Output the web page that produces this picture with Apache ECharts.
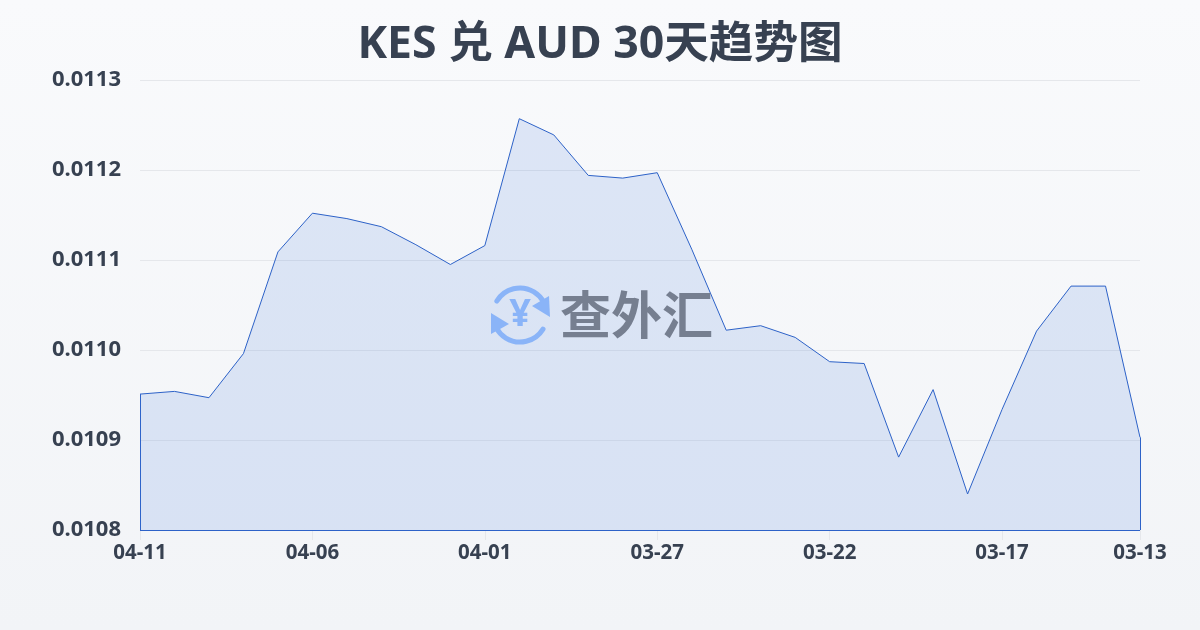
<!DOCTYPE html>
<html><head><meta charset="utf-8">
<style>html,body{margin:0;padding:0;background:#f6f8fa}#c{width:1200px;height:630px}</style>
<script src="https://cdn.jsdelivr.net/npm/echarts@6/dist/echarts.min.js"></script></head>
<body><div id="c"></div>
<script>
const titleText = 'KES 兑 AUD 30天趋势图';
const watermarkText = '查外汇';
const dates = ['04-11','04-10','04-09','04-08','04-07','04-06','04-05','04-04','04-03','04-02','04-01','03-31','03-30','03-29','03-28','03-27','03-26','03-25','03-24','03-23','03-22','03-21','03-20','03-19','03-18','03-17','03-16','03-15','03-14','03-13'];
const rates = [0.010951,0.010954,0.010947,0.010996,0.011109,0.011152,0.011146,0.011137,0.011117,0.011095,0.011116,0.011257,0.011239,0.011194,0.011191,0.011197,0.011112,0.011022,0.011027,0.011014,0.010987,0.010985,0.010881,0.010956,0.010840,0.010934,0.011021,0.011071,0.011071,0.010903];
const yMin = 0.0108, yMax = 0.0113, yStep = 0.0001;
const font = '"Noto Sans","Noto Sans CJK SC",sans-serif';
const dark = '#374151';
const blue = '#2d62c8';
const shown = (i) => i % 5 === 0 || i === dates.length - 1;
const last = dates.length - 1;
const chart = echarts.init(document.getElementById('c'), null, {renderer:'canvas'});
const arc = (r, a, b) => ({type:'arc', shape:{cx:520, cy:315, r:r, startAngle:a, endAngle:b}, style:{fill:null, stroke:'#8ab4f8', lineWidth:5, lineCap:'round'}, z:10, silent:true});
chart.setOption({
  animation:false,
  backgroundColor:{type:'linear',x:0,y:0,x2:0,y2:1,colorStops:[{offset:0,color:'#f9fafc'},{offset:1,color:'#f2f4f7'}]},
  title:{text:titleText,left:'center',top:18,textStyle:{fontFamily:font,fontSize:44.6,fontWeight:'bold',color:dark}},
  grid:{left:140,right:60,top:80,bottom:100},
  xAxis:{type:'category',data:dates,boundaryGap:false,
    axisLine:{show:false},
    axisTick:{show:true,length:10,interval:(i)=>shown(i),lineStyle:{color:'#e5e7eb'}},
    axisLabel:{interval:(i)=>shown(i),fontFamily:font,fontSize:20.5,fontWeight:'bold',color:dark,margin:13}},
  yAxis:{type:'value',min:yMin,max:yMax,interval:yStep,
    axisLine:{show:false},axisTick:{show:false},
    splitLine:{lineStyle:{color:'#e5e7eb',width:1}},
    axisLabel:{formatter:(v)=>v.toFixed(4),fontFamily:font,fontSize:22,fontWeight:'bold',color:dark,margin:19}},
  graphic:[
    arc(27,-2.6,-0.5), arc(27,0.55,2.65),
    {type:'polygon',shape:{points:[[549,296],[550,317],[532,306]]},style:{fill:'#8ab4f8'},silent:true,z:10},
    {type:'polygon',shape:{points:[[491,313],[491,334],[509,324]]},style:{fill:'#8ab4f8'},silent:true,z:10},
    {type:'text',style:{text:'¥',x:520,y:315,align:'center',verticalAlign:'middle',fill:'#8ab4f8',font:'bold 38px '+font},silent:true,z:10},
    {type:'text',style:{text:watermarkText,x:560,y:315,align:'left',verticalAlign:'middle',fill:'#767f90',font:'bold 51px "Noto Sans CJK SC"'},silent:true,z:10}
  ],
  series:[{type:'line',data:rates,symbol:'none',z:5,
    lineStyle:{color:blue,width:1},
    areaStyle:{color:'rgba(60,110,220,0.2)',origin:'start'},
    markLine:{silent:true,symbol:'none',label:{show:false},lineStyle:{color:blue,width:1,type:'solid'},
      data:[
        [{coord:[dates[0],yMin]},{coord:[dates[0],rates[0]]}],
        [{coord:[dates[0],yMin]},{coord:[dates[last],yMin]}],
        [{coord:[dates[last],yMin]},{coord:[dates[last],rates[last]]}]
      ]}}]
});
</script></body></html>
